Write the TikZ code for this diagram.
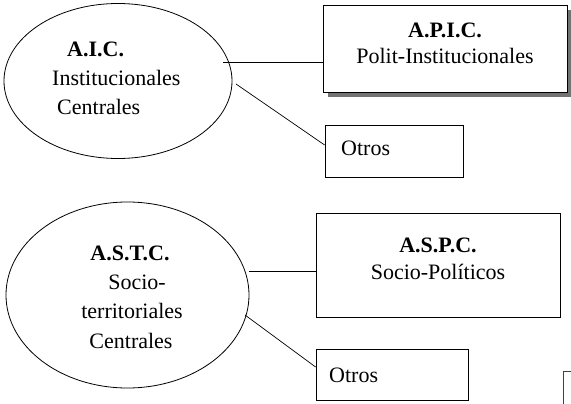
\documentclass[tikz,border=0pt]{standalone}
\usepackage{fontspec}
\setmainfont{Liberation Serif}
\usetikzlibrary{shapes.geometric,calc}
\begin{document}
\begin{tikzpicture}[x=1pt,y=-1pt,
  ell/.style={draw,line width=0.8pt,ellipse,inner sep=0pt},
  bx/.style={draw,line width=0.8pt,rectangle,inner sep=0pt,fill=white},
  txt/.style={inner sep=0pt,anchor=base,font=\fontsize{22}{29}\selectfont},
  txtl/.style={txt,anchor=base west},
  conn/.style={line width=0.7pt}]
\useasboundingbox (0,0) rectangle (571,404);
% group 1
\node[ell,minimum width=228pt,minimum height=155pt] (e1) at (118,81) {};
\fill[gray!90!black] (328,10) rectangle (572,97);
\node[bx,minimum width=244pt,minimum height=87pt] (apic) at (445,48.5) {};
\node[bx,minimum width=138pt,minimum height=52pt] (o1) at (394,151) {};
\node[txtl] (t1a) at (67,57) {\bfseries A.I.C.};
\node[txtl] (t1b) at (52,86) {Institucionales};
\node[txtl] (t1c) at (57,115) {Centrales};
\node[txt] (t2a) at (445,38) {\bfseries A.P.I.C.};
\node[txt] (t2b) at (445,64) {Polit-Institucionales};
\node[txtl] (t3) at (341,155) {Otros};
\coordinate (c1) at (223,62.5);
\coordinate (c2) at (236,84);
\draw[conn] (c1) -- (c1 -| apic.west);
\draw[conn] (c2) -- ([yshift=6pt]o1.west);
% group 2
\node[ell,minimum width=243pt,minimum height=186pt] (e2) at (127.5,295) {};
\node[bx,minimum width=244pt,minimum height=104pt] (aspc) at (438,265) {};
\node[bx,minimum width=152pt,minimum height=51pt] (o2) at (392,374.5) {};
\node[txt] (s1) at (130,260) {\bfseries A.S.T.C.};
\node[txt] (s2) at (137,289) {Socio-};
\node[txt] (s3) at (132,318) {territoriales};
\node[txt] (s4) at (131,348) {Centrales};
\node[txt] (s5) at (438,252) {\bfseries A.S.P.C.};
\node[txt] (s6) at (438,279) {Socio-Políticos};
\node[txtl] (s7) at (329,382) {Otros};
\coordinate (d1) at (249,271);
\coordinate (d2) at (245,315);
\draw[conn] (d1) -- (d1 -| aspc.west);
\draw[conn] (d2) -- ([yshift=7.5pt]o2.west);
% partial box at bottom right
\coordinate (p1) at (563.5,405);
\coordinate (p2) at (563.5,371.5);
\coordinate (p3) at (572,371.5);
\draw[line width=1.4pt,black!75] (p1) -- (p2) -- (p3);
\end{tikzpicture}
\end{document}
